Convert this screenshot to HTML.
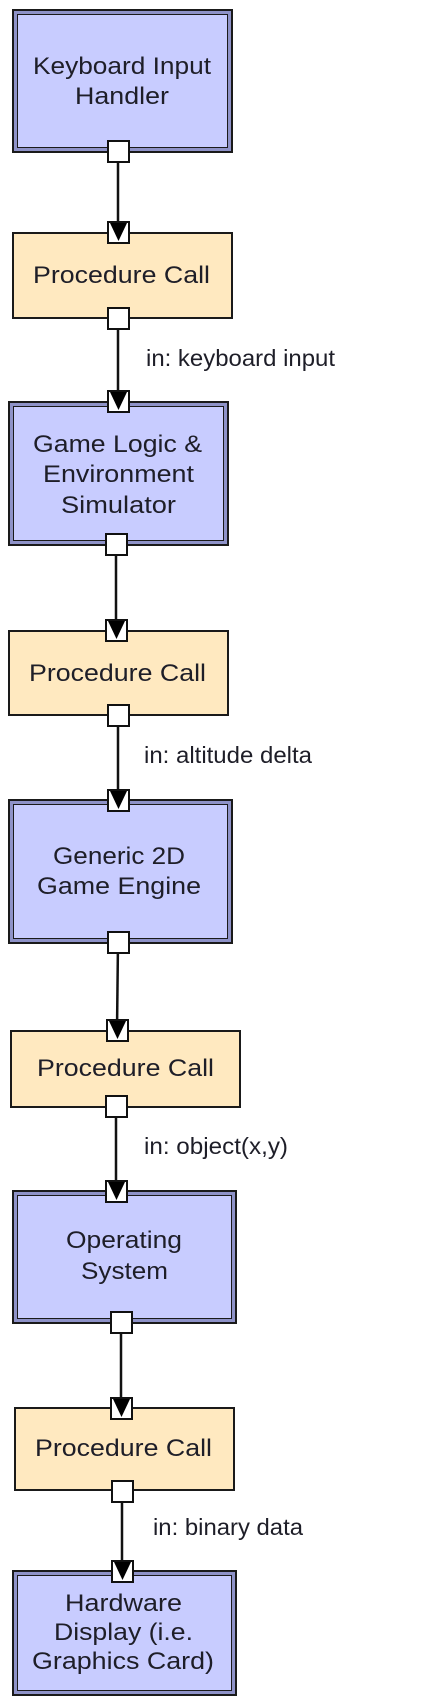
<!DOCTYPE html>
<html><head><meta charset="utf-8"><style>
html,body{margin:0;padding:0;background:#fff;}
svg{display:block;}
text{font-family:"Liberation Sans",sans-serif;fill:#1e1e28;}
</style></head><body>
<svg width="432" height="1704" viewBox="0 0 432 1704" xmlns="http://www.w3.org/2000/svg">
<g stroke="#111" stroke-width="2.5">
<line x1="118" y1="151" x2="118" y2="232"/>
<line x1="118" y1="318" x2="118" y2="401"/>
<line x1="116" y1="544" x2="116" y2="630"/>
<line x1="118" y1="715" x2="118" y2="800"/>
<line x1="118" y1="942" x2="117" y2="1030"/>
<line x1="116" y1="1106" x2="116" y2="1191"/>
<line x1="121" y1="1322" x2="121" y2="1408"/>
<line x1="122" y1="1491" x2="122" y2="1571"/>
</g>
<g>
<rect x="13" y="10" width="219" height="142" fill="#8e92c8" stroke="#1a1a1a" stroke-width="2"/>
<rect x="17.5" y="14.5" width="210" height="133" fill="#c8ccff" stroke="#1a1a1a" stroke-width="1"/>
<rect x="9" y="402" width="219" height="143" fill="#8e92c8" stroke="#1a1a1a" stroke-width="2"/>
<rect x="13.5" y="406.5" width="210" height="134" fill="#c8ccff" stroke="#1a1a1a" stroke-width="1"/>
<rect x="9" y="800" width="223" height="143" fill="#8e92c8" stroke="#1a1a1a" stroke-width="2"/>
<rect x="13.5" y="804.5" width="214" height="134" fill="#c8ccff" stroke="#1a1a1a" stroke-width="1"/>
<rect x="13" y="1191" width="223" height="132" fill="#8e92c8" stroke="#1a1a1a" stroke-width="2"/>
<rect x="17.5" y="1195.5" width="214" height="123" fill="#c8ccff" stroke="#1a1a1a" stroke-width="1"/>
<rect x="13" y="1571" width="223" height="124" fill="#8e92c8" stroke="#1a1a1a" stroke-width="2"/>
<rect x="17.5" y="1575.5" width="214" height="115" fill="#c8ccff" stroke="#1a1a1a" stroke-width="1"/>
</g>
<g fill="#ffe9c0" stroke="#1a1a1a" stroke-width="2">
<rect x="13" y="233" width="219" height="85"/>
<rect x="9" y="631" width="219" height="84"/>
<rect x="11" y="1031" width="229" height="76"/>
<rect x="15" y="1408" width="219" height="82"/>
</g>
<g fill="#fff" stroke="#111" stroke-width="2">
<rect x="108" y="141" width="21" height="21"/>
<rect x="108" y="222" width="21" height="21"/>
<rect x="108" y="308" width="21" height="21"/>
<rect x="108" y="391" width="21" height="21"/>
<rect x="106" y="534" width="21" height="21"/>
<rect x="106" y="620" width="21" height="21"/>
<rect x="108" y="705" width="21" height="21"/>
<rect x="108" y="790" width="21" height="21"/>
<rect x="108" y="932" width="21" height="21"/>
<rect x="107" y="1020" width="21" height="21"/>
<rect x="106" y="1096" width="21" height="21"/>
<rect x="106" y="1181" width="21" height="21"/>
<rect x="111" y="1312" width="21" height="21"/>
<rect x="111" y="1398" width="21" height="21"/>
<rect x="112" y="1481" width="21" height="21"/>
<rect x="112" y="1561" width="21" height="21"/>
</g>
<g fill="#000">
<polygon points="110,223 127,223 118.5,241"/>
<polygon points="110,392 127,392 118.5,410"/>
<polygon points="108,621 125,621 116.5,639"/>
<polygon points="110,791 127,791 118.5,809"/>
<polygon points="109,1021 126,1021 117.5,1039"/>
<polygon points="108,1182 125,1182 116.5,1200"/>
<polygon points="113,1399 130,1399 121.5,1417"/>
<polygon points="114,1562 131,1562 122.5,1580"/>
</g>
<g font-size="24.5" text-anchor="middle">
<text x="122" y="74" textLength="178" lengthAdjust="spacingAndGlyphs">Keyboard Input</text>
<text x="122" y="104" textLength="94" lengthAdjust="spacingAndGlyphs">Handler</text>
<text x="121.5" y="283" textLength="177" lengthAdjust="spacingAndGlyphs">Procedure Call</text>
<text x="117.5" y="452" textLength="169" lengthAdjust="spacingAndGlyphs">Game Logic &amp;</text>
<text x="118.5" y="482" textLength="151" lengthAdjust="spacingAndGlyphs">Environment</text>
<text x="118.5" y="513" textLength="115" lengthAdjust="spacingAndGlyphs">Simulator</text>
<text x="117.5" y="681" textLength="177" lengthAdjust="spacingAndGlyphs">Procedure Call</text>
<text x="119" y="864" textLength="132" lengthAdjust="spacingAndGlyphs">Generic 2D</text>
<text x="119" y="894" textLength="164" lengthAdjust="spacingAndGlyphs">Game Engine</text>
<text x="125.5" y="1076" textLength="177" lengthAdjust="spacingAndGlyphs">Procedure Call</text>
<text x="124" y="1248" textLength="116" lengthAdjust="spacingAndGlyphs">Operating</text>
<text x="124.5" y="1279" textLength="87" lengthAdjust="spacingAndGlyphs">System</text>
<text x="123.5" y="1456" textLength="177" lengthAdjust="spacingAndGlyphs">Procedure Call</text>
<text x="123.5" y="1611" textLength="117" lengthAdjust="spacingAndGlyphs">Hardware</text>
<text x="123.5" y="1640" textLength="139" lengthAdjust="spacingAndGlyphs">Display (i.e.</text>
<text x="123" y="1669" textLength="182" lengthAdjust="spacingAndGlyphs">Graphics Card)</text>
</g>
<g font-size="23">
<text x="146" y="366" textLength="189" lengthAdjust="spacingAndGlyphs">in: keyboard input</text>
<text x="144" y="763" textLength="168" lengthAdjust="spacingAndGlyphs">in: altitude delta</text>
<text x="144" y="1154" textLength="144" lengthAdjust="spacingAndGlyphs">in: object(x,y)</text>
<text x="153" y="1535" textLength="150" lengthAdjust="spacingAndGlyphs">in: binary data</text>
</g>
</svg>
</body></html>
